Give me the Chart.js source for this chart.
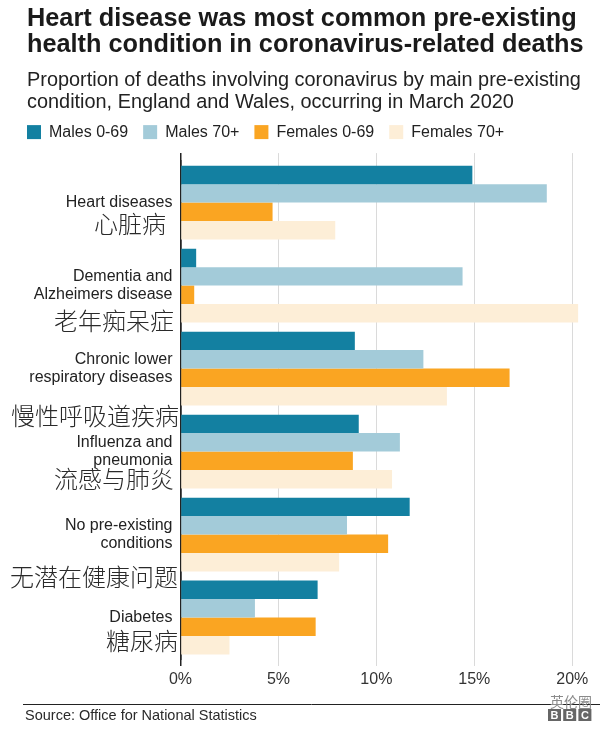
<!DOCTYPE html>
<html>
<head>
<meta charset="utf-8">
<script src="https://cdn.jsdelivr.net/npm/chart.js@4.4.0/dist/chart.umd.min.js"></script>
<style>
  html, body { margin: 0; padding: 0; background: #fff; }
  #wrap { width: 614px; height: 730px; }
</style>
</head>
<body>
<div id="wrap"><canvas id="myChart"></canvas></div>
<script>
// data
const categories = [
  ['Heart diseases'],
  ['Dementia and', 'Alzheimers disease'],
  ['Chronic lower', 'respiratory diseases'],
  ['Influenza and', 'pneumonia'],
  ['No pre-existing', 'conditions'],
  ['Diabetes']
];
const categoriesCn = ['心脏病', '老年痴呆症', '慢性呼吸道疾病', '流感与肺炎', '无潜在健康问题', '糖尿病'];
const males069 = [14.9, 0.8, 8.9, 9.1, 11.7, 7.0];
const males70 = [18.7, 14.4, 12.4, 11.2, 8.5, 3.8];
const females069 = [4.7, 0.7, 16.8, 8.8, 10.6, 6.9];
const females70 = [7.9, 20.3, 13.6, 10.8, 8.1, 2.5];
const xTicks = [0, 5, 10, 15, 20];
const xMax = 21.11;

// chinese labels: offset below category centre, and right edge
const cnOffset = [21, 35, 47, 27, 42, 23];
const cnRight = [166, 174, 179, 174, 178, 178];

const gridCol = (c) => c.tick.value === 0 ? '#222' : '#dadada';
const gridW = (c) => c.tick.value === 0 ? 1.5 : 1;
const setTicks = (s) => { s.ticks = xTicks.map(v => ({ value: v })); };

const extras = {
  id: 'extras',
  afterLayout(chart) {
    // legend starts flush with the title
    chart.legend.left -= 15;
  },
  afterDraw(chart) {
    const c = chart.ctx, y = chart.scales.y;
    c.save();
    c.fillStyle = '#2a2a2a';
    c.textAlign = 'right';
    c.textBaseline = 'middle';
    c.font = '300 24px "Noto Sans CJK SC"';
    categoriesCn.forEach((t, i) => {
      c.fillText(t, cnRight[i], y.getPixelForValue(i) + cnOffset[i]);
    });

    // footer
    c.strokeStyle = '#222';
    c.lineWidth = 1;
    c.beginPath();
    c.moveTo(23, 704.5);
    c.lineTo(600, 704.5);
    c.stroke();
    c.textAlign = 'left';
    c.font = '14.5px "Liberation Sans"';
    c.fillText('Source: Office for National Statistics', 25, 716);

    c.fillStyle = '#8a8a8a';
    c.font = '14px "Noto Sans CJK SC"';
    c.fillText('英伦圈', 550, 702);
    ['B', 'B', 'C'].forEach((l, i) => {
      const bx = 548 + i * 15.2;
      c.fillStyle = '#666';
      c.fillRect(bx, 709, 13, 12);
      c.fillStyle = '#fff';
      c.font = 'bold 11px "Liberation Sans"';
      c.textAlign = 'center';
      c.fillText(l, bx + 6.5, 715.5);
    });
    c.restore();
  }
};

const ctx = document.getElementById('myChart');
new Chart(ctx, {
  type: 'bar',
  data: {
    labels: categories,
    datasets: [
      { label: 'Males 0-69', data: males069, backgroundColor: '#1380A1' },
      { label: 'Males 70+', data: males70, backgroundColor: '#A3CBD9' },
      { label: 'Females 0-69', data: females069, backgroundColor: '#FAA522' },
      { label: 'Females 70+', data: females70, backgroundColor: '#FDEED7' }
    ]
  },
  options: {
    indexAxis: 'y',
    responsive: true,
    maintainAspectRatio: false,
    animation: false,
    datasets: {
      bar: { categoryPercentage: 0.889, barPercentage: 1.0, borderWidth: 0 }
    },
    layout: { padding: { left: 27, right: 20, top: 0, bottom: 36.8 } },
    scales: {
      x: {
        min: 0,
        max: xMax,
        afterBuildTicks: setTicks,
        grid: { color: gridCol, lineWidth: gridW, tickLength: 7 },
        border: { display: false },
        ticks: {
          callback: (v) => v + '%',
          color: '#333',
          font: { family: 'Liberation Sans', size: 16 },
          padding: 4
        }
      },
      // top axis only gives the short grid stubs above the bars
      x2: {
        axis: 'x',
        position: 'top',
        min: 0,
        max: xMax,
        afterBuildTicks: setTicks,
        grid: { drawOnChartArea: false, color: gridCol, lineWidth: gridW, tickLength: 8 },
        border: { display: false },
        ticks: { display: false },
        title: { display: true, text: '', padding: 0, font: { size: 3, lineHeight: 1 } }
      },
      y: {
        z: 1,
        grid: { display: false, drawTicks: false },
        border: { display: true, color: '#222', width: 1.5 },
        afterFit: (s) => { s.width = 153.5; },
        ticks: {
          color: '#222',
          padding: 8,
          font: { family: 'Liberation Sans', size: 16, lineHeight: 1.12 }
        }
      }
    },
    plugins: {
      title: {
        display: true,
        align: 'start',
        text: ['Heart disease was most common pre-existing', 'health condition in coronavirus-related deaths'],
        color: '#1a1a1a',
        font: { family: 'Liberation Sans', size: 25.3, weight: 'bold', lineHeight: 1.04 },
        padding: { top: 5.5, bottom: 12 }
      },
      subtitle: {
        display: true,
        align: 'start',
        text: ['Proportion of deaths involving coronavirus by main pre-existing', 'condition, England and Wales, occurring in March 2020'],
        color: '#222',
        font: { family: 'Liberation Sans', size: 19.9, lineHeight: 1.08 },
        padding: { top: 0, bottom: -4 }
      },
      legend: {
        align: 'start',
        labels: {
          boxWidth: 14,
          boxHeight: 14,
          padding: 15,
          color: '#222',
          font: { family: 'Liberation Sans', size: 16 }
        }
      },
      tooltip: { enabled: false }
    }
  },
  plugins: [extras]
});
</script>
</body>
</html>
